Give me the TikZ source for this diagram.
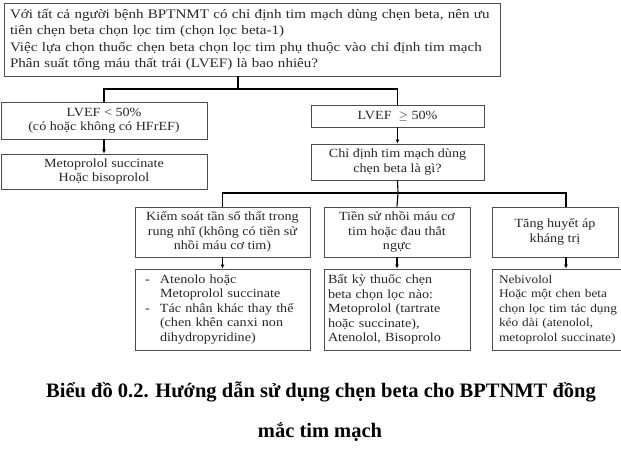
\documentclass[tikz,border=0pt]{standalone}
\usepackage{fontspec}
\setmainfont{Liberation Serif}
\newfontfamily\boxfont[FakeStretch=1.13]{Liberation Serif}
\newfontfamily\topfont[FakeStretch=1.16]{Liberation Serif}
\usetikzlibrary{arrows.meta}

\begin{document}
\begin{tikzpicture}[x=1pt,y=-1pt,
    box/.style={draw=black!70,line width=0.9pt,inner sep=0pt,
        font=\boxfont\fontsize{12.5}{14.5}\selectfont,text=black!85},
    link/.style={draw=black,line width=1.1pt},
    arr/.style={link,-{Latex[length=4pt,width=4pt]}}]
\useasboundingbox (0,0) rectangle (621,453);
\clip (0,0) rectangle (621,453);

% boxes
\node[box,font=\topfont\fontsize{13}{16.5}\selectfont,text width=484pt,inner xsep=6pt,minimum height=73pt,align=left] (top) at (252,39.5)
    {\makebox[\linewidth][s]{Với tất cả người bệnh BPTNMT có chỉ định tim mạch dùng chẹn beta, nên ưu}\\
     tiên chẹn beta chọn lọc tim (chọn lọc beta-1)\\
     Việc lựa chọn thuốc chẹn beta chọn lọc tim phụ thuộc vào chỉ định tim mạch\\
     Phân suất tống máu thất trái (LVEF) là bao nhiêu?};
\node[box,minimum width=206pt,minimum height=37pt,align=center] (low) at (104,120.5)
    {LVEF < 50\%\\(có hoặc không có HFrEF)};
\node[box,minimum width=206pt,minimum height=35pt,align=center] (meto) at (104,171.5)
    {Metoprolol succinate\\Hoặc bisoprolol};
\node[box,minimum width=173pt,minimum height=22pt,align=center] (high) at (397.5,116)
    {LVEF \ $\geq$ 50\%};
\node[box,minimum width=173pt,minimum height=36pt,align=center] (chidinh) at (397.5,162)
    {Chỉ định tim mạch dùng\\chẹn beta là gì?};

\node[box,minimum width=175pt,minimum height=50pt,align=center] (rung) at (222.5,232)
    {Kiểm soát tần số thất trong\\rung nhĩ (không có tiền sử\\nhồi máu cơ tim)};
\node[box,minimum width=146pt,minimum height=50pt,align=center] (nhoi) at (397,232)
    {Tiền sử nhồi máu cơ\\tim hoặc đau thắt\\ngực};
\node[box,minimum width=126pt,minimum height=50pt,align=center] (tang) at (555,232)
    {Tăng huyết áp\\kháng trị};

\node[box,text width=155pt,inner xsep=10pt,minimum height=81pt,align=left] (rungthuoc) at (222.5,309.5)
    {\makebox[15pt][l]{-}Atenolo hoặc\\
     \hspace*{15pt}Metoprolol succinate\\
     \makebox[15pt][l]{-}Tác nhân khác thay thế\\
     \hspace*{15pt}(chen khên canxi non\\
     \hspace*{15pt}dihydropyridine)};
\node[box,text width=138pt,inner xsep=4pt,minimum height=81pt,align=left] (nhoithuoc) at (397,309.5)
    {Bất kỳ thuốc chẹn\\beta chọn lọc nào:\\Metoprolol (tartrate\\hoặc succinate),\\Atenolol, Bisoprolo};
\node[box,font=\boxfont\fontsize{11.8}{14.5}\selectfont,text width=152pt,inner xsep=7pt,minimum height=81pt,align=left] (tangthuoc) at (575,309.5)
    {Nebivolol\\Hoặc một chen beta\\chọn lọc tim tác dụng\\kéo dài (atenolol,\\metoprolol succinate)};

% connectors
\coordinate (j1) at (238,89);
\coordinate (j2) at (398,193);
\coordinate (jr) at (566,193);
\draw[link] (top.south -| j1) -- (j1);
\draw[link] (low.north) |- (j1) -| (high.north);
\draw[arr] (low.south) -- (meto.north);
\draw[arr] (high.south) -- (chidinh.north);
\draw[link] (chidinh.south) -- (j2) -- (nhoi.north);
\draw[link] (rung.north) |- (jr) -- (tang.north -| jr);
\draw[arr] (rung.south) -- (rungthuoc.north);
\draw[arr] (nhoi.south) -- (nhoithuoc.north);
\draw[arr] (tang.south -| jr) -- (tangthuoc.north -| jr);

% caption
\node[font=\bfseries\fontsize{20.5}{24}\selectfont] (cap1) at (321,392)
    {Biểu đồ 0.2. Hướng dẫn sử dụng chẹn beta cho BPTNMT đồng};
\node[font=\bfseries\fontsize{20.5}{24}\selectfont] (cap2) at (320,432)
    {mắc tim mạch};
\end{tikzpicture}
\end{document}
